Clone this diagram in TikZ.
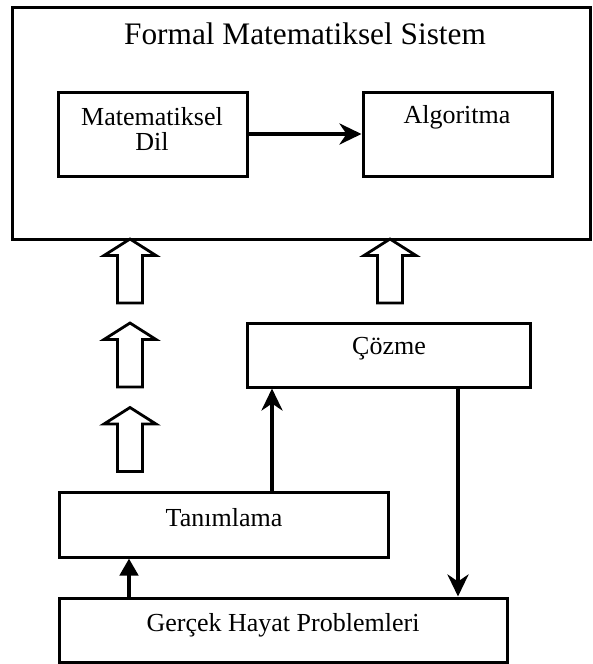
\documentclass[tikz,border=0pt]{standalone}
\usepackage{fontspec}
\setmainfont{Liberation Serif}
\usetikzlibrary{arrows.meta}
\begin{document}
\begin{tikzpicture}[x=1pt,y=-1pt,
  box/.style={draw, line width=3pt, inner sep=0pt},
  txt/.style={inner sep=0pt, font=\fontsize{26}{25}\selectfont, align=center},
  conn/.style={line width=4.8pt, -{Stealth[length=22pt,width=21pt,inset=7pt]}},
  connsmall/.style={line width=4.8pt, -{Triangle[length=17pt,width=18pt]}},
  hollow/.style={draw, line width=2.8pt, fill=white, line join=miter},
  hollowarrow/.pic={\draw[hollow] (0,0) -- (-26,16.5) -- (-12.5,16.5) -- (-12.5,64) -- (12.5,64) -- (12.5,16.5) -- (26,16.5) -- cycle;}]
\useasboundingbox (0,0) rectangle (593,664);
% boxes
\node[box, minimum width=578pt, minimum height=232pt] (outer) at (301,123) {};
\node[box, minimum width=189pt, minimum height=84pt] (md) at (152.5,134) {};
\node[box, minimum width=189pt, minimum height=84pt] (alg) at (457.5,134) {};
\node[box, minimum width=283pt, minimum height=64pt] (coz) at (388.5,355) {};
\node[box, minimum width=329pt, minimum height=65pt] (tan) at (223.5,524.5) {};
\node[box, minimum width=448pt, minimum height=64pt] (ger) at (283,630) {};
% texts
\node[inner sep=0pt, font=\fontsize{31.3}{32}\selectfont] (title) at (305,34) {Formal Matematiksel Sistem};
\node[txt] (mdT) at (152,129.5) {Matematiksel\\Dil};
\node[txt] (algT) at (457,117) {Algoritma};
\node[txt] (cozT) at (389,349) {Çözme};
\node[txt] (tanT) at (224,518) {Tanımlama};
\node[txt] (gerT) at (283,625) {Gerçek Hayat Problemleri};
% hollow arrows
\pic (ha1) at (130,239) {hollowarrow};
\pic (ha2) at (130,323) {hollowarrow};
\pic (ha3) at (130,407.5) {hollowarrow};
\pic (ha4) at (390,239) {hollowarrow};
% connectors
\coordinate (x1) at (272,0);
\coordinate (x2) at (458,0);
\coordinate (x3) at (129,0);
\draw[conn] (md.east) -- (alg.west);
\draw[conn] (tan.north -| x1) -- (coz.south -| x1);
\draw[conn] (coz.south -| x2) -- (ger.north -| x2);
\draw[connsmall] (ger.north -| x3) -- (tan.south -| x3);
\end{tikzpicture}
\end{document}
